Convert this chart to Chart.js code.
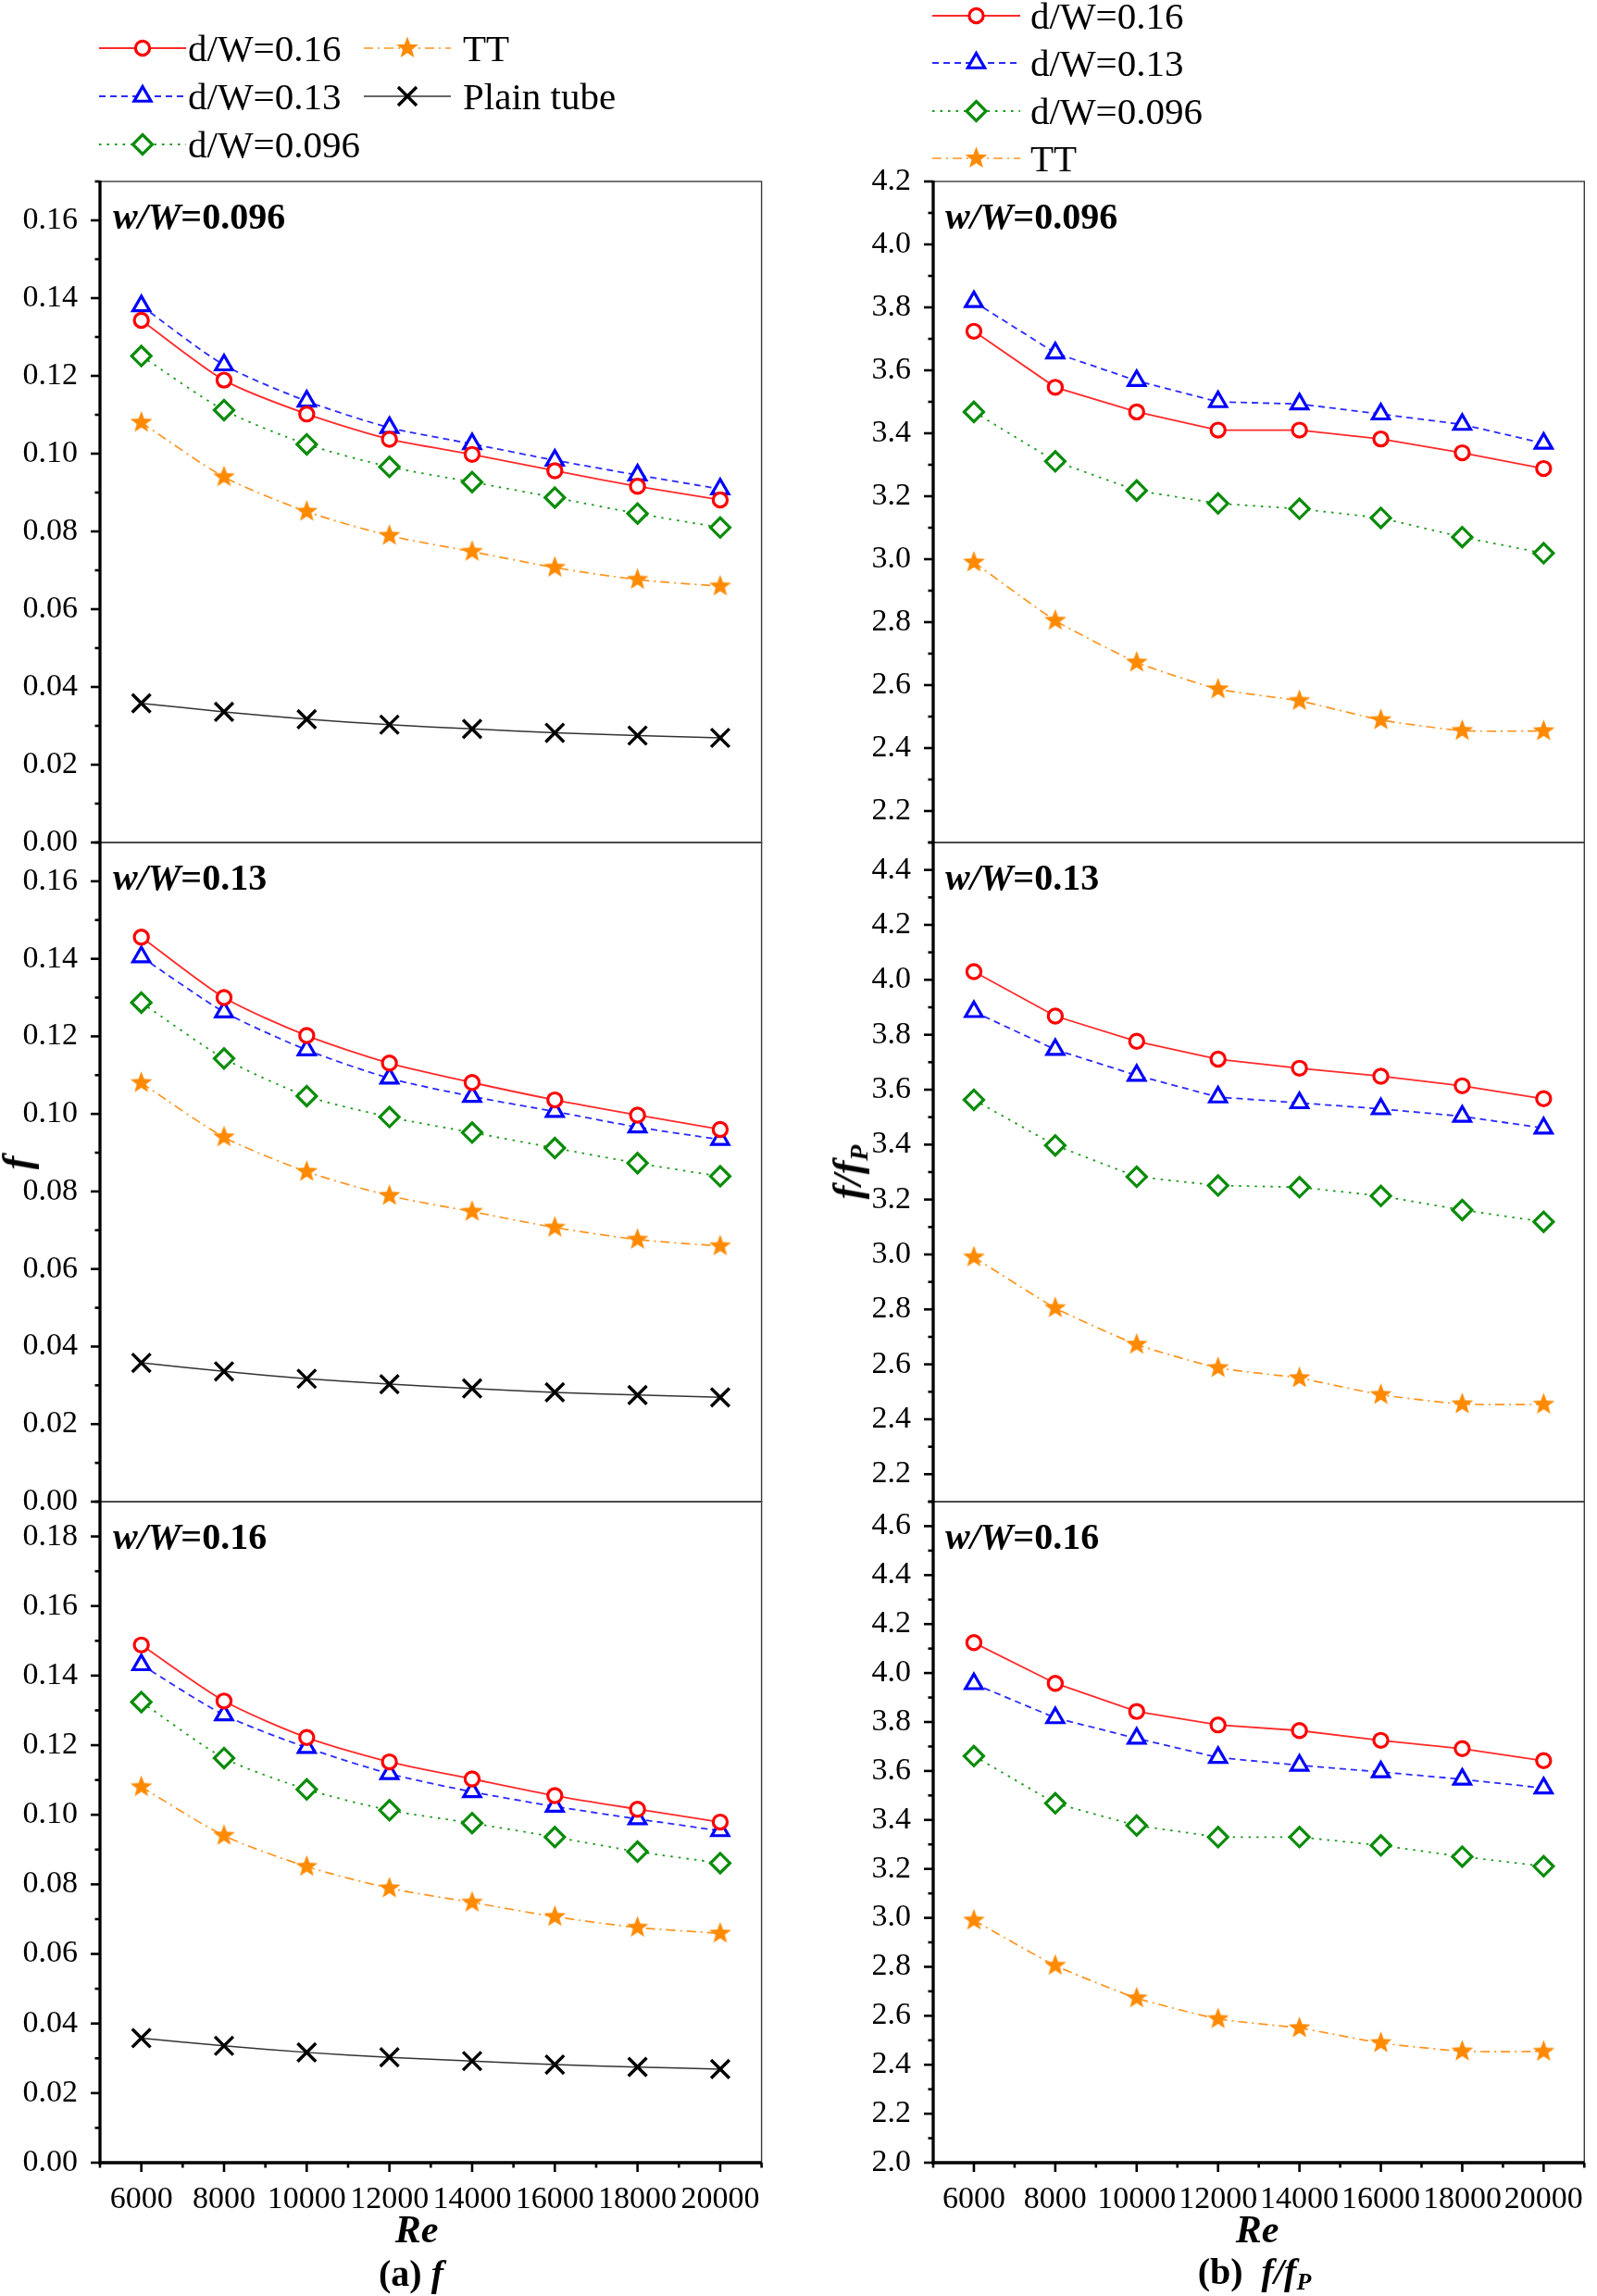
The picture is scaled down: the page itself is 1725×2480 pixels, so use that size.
<!DOCTYPE html>
<html><head><meta charset="utf-8">
<script src="https://cdn.jsdelivr.net/npm/chart.js@4.4.1/dist/chart.umd.min.js"></script>
<style>
body{margin:0;background:#fff;width:1725px;height:2480px;position:relative;overflow:hidden;font-family:"Liberation Serif","Times New Roman",serif;}
.cv{position:absolute;}
.txt{position:absolute;white-space:nowrap;color:#000;line-height:1;}
</style></head><body>
<script>
// ---------------- DATA ----------------
const reValues = [6000, 8000, 10000, 12000, 14000, 16000, 18000, 20000];
const xTickLabels = [6000, 8000, 10000, 12000, 14000, 16000, 18000, 20000];
const xMinorTicks = [5000, 7000, 9000, 11000, 13000, 15000, 17000, 19000, 21000];

const seriesNames = ['d/W=0.16', 'd/W=0.13', 'd/W=0.096', 'TT', 'Plain tube'];
const panelNames = ['w/W=0.096', 'w/W=0.13', 'w/W=0.16'];

// (a) f
const f_TT    = [0.1080, 0.0940, 0.0851, 0.0789, 0.0748, 0.0707, 0.0676, 0.0659];
const f_plain = [0.0358, 0.0336, 0.0317, 0.0303, 0.0292, 0.0282, 0.0275, 0.0269];
const f_w096_d16  = [0.1343, 0.1189, 0.1102, 0.1037, 0.0998, 0.0956, 0.0916, 0.0881];
const f_w096_d13  = [0.1380, 0.1228, 0.1135, 0.1067, 0.1025, 0.0983, 0.0945, 0.0909];
const f_w096_d096 = [0.1251, 0.1112, 0.1024, 0.0966, 0.0927, 0.0887, 0.0846, 0.0810];
const f_w13_d16   = [0.1456, 0.1300, 0.1202, 0.1131, 0.1081, 0.1036, 0.0997, 0.0960];
const f_w13_d13   = [0.1405, 0.1263, 0.1165, 0.1092, 0.1045, 0.1006, 0.0966, 0.0934];
const f_w13_d096  = [0.1287, 0.1143, 0.1046, 0.0992, 0.0952, 0.0912, 0.0873, 0.0839];
const f_w16_d16   = [0.1488, 0.1327, 0.1222, 0.1152, 0.1103, 0.1055, 0.1016, 0.0979];
const f_w16_d13   = [0.1431, 0.1287, 0.1193, 0.1118, 0.1066, 0.1024, 0.0988, 0.0954];
const f_w16_d096  = [0.1324, 0.1163, 0.1073, 0.1013, 0.0976, 0.0936, 0.0894, 0.0861];

// (b) f/fP
const r_TT        = [2.990, 2.805, 2.672, 2.587, 2.550, 2.489, 2.455, 2.454];
const r_w096_d16  = [3.724, 3.546, 3.468, 3.410, 3.410, 3.382, 3.338, 3.288];
const r_w096_d13  = [3.818, 3.655, 3.567, 3.500, 3.493, 3.461, 3.428, 3.368];
const r_w096_d096 = [3.468, 3.311, 3.218, 3.177, 3.160, 3.131, 3.070, 3.019];
const r_w13_d16   = [4.030, 3.868, 3.776, 3.711, 3.678, 3.649, 3.614, 3.567];
const r_w13_d13   = [3.884, 3.746, 3.652, 3.573, 3.552, 3.530, 3.503, 3.460];
const r_w13_d096  = [3.563, 3.397, 3.283, 3.251, 3.245, 3.213, 3.162, 3.119];
const r_w16_d16   = [4.124, 3.958, 3.843, 3.788, 3.765, 3.725, 3.691, 3.642];
const r_w16_d13   = [3.956, 3.817, 3.733, 3.655, 3.623, 3.596, 3.566, 3.530];
const r_w16_d096  = [3.661, 3.468, 3.377, 3.330, 3.330, 3.296, 3.250, 3.211];

// y tick labels
const fTicksA = [0.00, 0.02, 0.04, 0.06, 0.08, 0.10, 0.12, 0.14, 0.16];
const fTicksB = [0.00, 0.02, 0.04, 0.06, 0.08, 0.10, 0.12, 0.14, 0.16, 0.18];
const rTicks1 = [2.2, 2.4, 2.6, 2.8, 3.0, 3.2, 3.4, 3.6, 3.8, 4.0, 4.2];
const rTicks2 = [2.2, 2.4, 2.6, 2.8, 3.0, 3.2, 3.4, 3.6, 3.8, 4.0, 4.2, 4.4];
const rTicks3 = [2.0, 2.2, 2.4, 2.6, 2.8, 3.0, 3.2, 3.4, 3.6, 3.8, 4.0, 4.2, 4.4, 4.6];
const fRanges = [[0, 0.17], [0, 0.17], [0, 0.19]];
const rRanges = [[2.1, 4.2], [2.1, 4.5], [2.0, 4.7]];

// ---------------- STYLES ----------------
const FONT = '"Liberation Serif","Times New Roman",serif';
const COL = { red: '#ff0000', blue: '#0000ff', green: '#0a8c0a', orange: '#ff8a00', black: '#111111' };

function makeStar(rOuter, rInner, color) {
  const c = document.createElement('canvas');
  const s = Math.ceil(rOuter * 2 + 2);
  c.width = s; c.height = s;
  const g = c.getContext('2d');
  g.fillStyle = color;
  g.beginPath();
  for (let i = 0; i < 10; i++) {
    const r = i % 2 === 0 ? rOuter : rInner;
    const a = -Math.PI / 2 + i * Math.PI / 5;
    const px = s / 2 + r * Math.cos(a), py = s / 2 + r * Math.sin(a);
    if (i === 0) g.moveTo(px, py); else g.lineTo(px, py);
  }
  g.closePath(); g.fill();
  return c;
}
const starImg = makeStar(12.5, 5.2, COL.orange);

const styles = {
  d16:  { borderColor: '#ff2a2a', borderWidth: 1.8, borderDash: [], pointStyle: 'circle', pointRadius: 7.6, pointBorderWidth: 3.2, pointBorderColor: COL.red, pointBackgroundColor: '#fff' },
  d13:  { borderColor: '#2a2aff', borderWidth: 1.8, borderDash: [7, 5], pointStyle: 'triangle', pointRadius: 10.5, pointBorderWidth: 3.2, pointBorderColor: COL.blue, pointBackgroundColor: '#fff' },
  d096: { borderColor: '#1a9a1a', borderWidth: 1.8, borderDash: [2.5, 6], pointStyle: 'rectRot', pointRadius: 10.5, pointBorderWidth: 3.2, pointBorderColor: COL.green, pointBackgroundColor: '#fff' },
  TT:   { borderColor: '#ff9420', borderWidth: 1.7, borderDash: [10, 5, 2, 5], pointStyle: starImg, pointRadius: 12, pointBorderWidth: 0, pointBorderColor: COL.orange, pointBackgroundColor: COL.orange },
  plain:{ borderColor: '#333333', borderWidth: 1.5, borderDash: [], pointStyle: 'crossRot', pointRadius: 14, pointBorderWidth: 3.4, pointBorderColor: '#000', pointBackgroundColor: '#000' }
};

// ---------------- LAYOUT ----------------
const panelTops = [196, 910, 1622];
const panelBots = [910, 1622, 2336];
const PADT = 30, PADB = 30, XAXIS_H = 72;
const LEFT_COL  = { canvasX: 0,   canvasW: 840, axisW: 108, padR: 12 };   // plot 108..828
const RIGHT_COL = { canvasX: 880, canvasW: 845, axisW: 128, padR: 3 };    // plot 1008..1722

const framePlugin = {
  id: 'frame',
  afterDraw(chart, args, o) {
    const { ctx, chartArea: a } = chart;
    const ys = chart.scales.y, xs = chart.scales.x;
    ctx.save();
    ctx.setLineDash([]);
    ctx.strokeStyle = '#3a3a3a'; ctx.lineWidth = 1.4;
    ctx.strokeRect(a.left, a.top, a.right - a.left, a.bottom - a.top);
    ctx.strokeStyle = '#000'; ctx.lineWidth = 3.3;
    ctx.beginPath(); ctx.moveTo(a.left, a.top - 1); ctx.lineTo(a.left, a.bottom + (o.showX ? 1.6 : 0)); ctx.stroke();
    ctx.lineWidth = 2.6;
    o.yMajors.forEach(v => { const y = ys.getPixelForValue(v); ctx.beginPath(); ctx.moveTo(a.left, y); ctx.lineTo(a.left - 10, y); ctx.stroke(); });
    o.yMinors.forEach(v => { const y = ys.getPixelForValue(v); ctx.beginPath(); ctx.moveTo(a.left, y); ctx.lineTo(a.left - 5.5, y); ctx.stroke(); });
    if (o.showX) {
      ctx.lineWidth = 3.3;
      ctx.beginPath(); ctx.moveTo(a.left - 1.6, a.bottom); ctx.lineTo(a.right, a.bottom); ctx.stroke();
      ctx.lineWidth = 2.6;
      xTickLabels.forEach(v => { const x = xs.getPixelForValue(v); ctx.beginPath(); ctx.moveTo(x, a.bottom); ctx.lineTo(x, a.bottom + 10); ctx.stroke(); });
      xMinorTicks.forEach(v => { const x = xs.getPixelForValue(v); ctx.beginPath(); ctx.moveTo(x, a.bottom); ctx.lineTo(x, a.bottom + 5.5); ctx.stroke(); });
    }
    ctx.restore();
  }
};

function minorsOf(majors, lo, hi) {
  const step = majors[1] - majors[0];
  const out = [];
  const first = majors[0] - step / 2;
  for (let k = 0; ; k++) {
    const v = +(first + k * step).toFixed(6);
    if (v > hi + 1e-9) break;
    if (v >= lo - 1e-9) out.push(v);
  }
  return out;
}

function makePanel(col, idx, series, ticks, range, dec) {
  const showX = idx === 2;
  const cv = document.createElement('canvas');
  const top = panelTops[idx] - PADT;
  const h = (panelBots[idx] - panelTops[idx]) + PADT + (showX ? XAXIS_H : PADB);
  cv.width = col.canvasW; cv.height = h;
  cv.className = 'cv';
  cv.style.left = col.canvasX + 'px'; cv.style.top = top + 'px';
  cv.style.width = col.canvasW + 'px'; cv.style.height = h + 'px';
  document.body.appendChild(cv);
  const datasets = series.map(s => Object.assign({
    label: s.label,
    data: reValues.map((x, i) => ({ x: x, y: s.values[i] })),
    tension: s.tension,
    fill: false
  }, styles[s.key]));
  const xScale = {
    type: 'linear', min: 5000, max: 21000, display: showX,
    grid: { display: false }, border: { display: false },
    afterBuildTicks: s => { s.ticks = xTickLabels.map(v => ({ value: v })); },
    ticks: { autoSkip: false, maxRotation: 0, minRotation: 0, padding: 12, color: '#000',
      font: { family: FONT, size: 34 }, callback: v => String(v) }
  };
  if (showX) xScale.afterFit = s => { s.height = XAXIS_H; s.paddingLeft = 0; s.paddingRight = 0; };
  new Chart(cv.getContext('2d'), {
    type: 'line',
    data: { datasets },
    options: {
      responsive: false, animation: false, devicePixelRatio: 1,
      layout: { padding: { top: PADT, bottom: showX ? 0 : PADB, left: 0, right: col.padR } },
      plugins: {
        legend: { display: false }, tooltip: { enabled: false },
        frame: { showX, yMajors: ticks, yMinors: minorsOf(ticks, range[0], range[1]) }
      },
      scales: {
        x: xScale,
        y: {
          type: 'linear', min: range[0], max: range[1],
          grid: { display: false }, border: { display: false },
          afterBuildTicks: s => { s.ticks = ticks.map(v => ({ value: v })); },
          afterFit: s => { s.width = col.axisW; s.paddingTop = 0; s.paddingBottom = 0; },
          ticks: { autoSkip: false, padding: 16, color: '#000', font: { family: FONT, size: 34 },
            callback: v => Number(v).toFixed(dec) }
        }
      }
    },
    plugins: [framePlugin]
  });
}

const fData = [
  [f_w096_d16, f_w096_d13, f_w096_d096],
  [f_w13_d16, f_w13_d13, f_w13_d096],
  [f_w16_d16, f_w16_d13, f_w16_d096]
];
const rData = [
  [r_w096_d16, r_w096_d13, r_w096_d096],
  [r_w13_d16, r_w13_d13, r_w13_d096],
  [r_w16_d16, r_w16_d13, r_w16_d096]
];
const fTickSets = [fTicksA, fTicksA, fTicksB];
const rTickSets = [rTicks1, rTicks2, rTicks3];

for (let i = 0; i < 3; i++) {
  makePanel(LEFT_COL, i, [
    { label: seriesNames[0], key: 'd16', values: fData[i][0], tension: 0.25 },
    { label: seriesNames[1], key: 'd13', values: fData[i][1], tension: 0.25 },
    { label: seriesNames[2], key: 'd096', values: fData[i][2], tension: 0.25 },
    { label: seriesNames[3], key: 'TT', values: f_TT, tension: 0.25 },
    { label: seriesNames[4], key: 'plain', values: f_plain, tension: 0.25 }
  ], fTickSets[i], fRanges[i], 2);
  makePanel(RIGHT_COL, i, [
    { label: seriesNames[0], key: 'd16', values: rData[i][0], tension: 0 },
    { label: seriesNames[1], key: 'd13', values: rData[i][1], tension: 0 },
    { label: seriesNames[2], key: 'd096', values: rData[i][2], tension: 0 },
    { label: seriesNames[3], key: 'TT', values: r_TT, tension: 0.15 }
  ], rTickSets[i], rRanges[i], 1);
}

// ---------------- TEXT ----------------
function addText(html, left, top, size, extra) {
  const d = document.createElement('div');
  d.className = 'txt';
  d.style.left = left + 'px'; d.style.top = top + 'px'; d.style.fontSize = size + 'px';
  if (extra) Object.assign(d.style, extra);
  d.innerHTML = html;
  document.body.appendChild(d);
  return d;
}
// panel labels
const panelLabelY = [214, 928, 1640];
for (let i = 0; i < 3; i++) {
  const [a, b] = panelNames[i].split('=');
  const html = '<b><i>' + a + '</i>=' + b + '</b>';
  addText(html, 122, panelLabelY[i], 40);
  addText(html, 1021, panelLabelY[i], 40);
}
// axis titles
addText('<b><i>Re</i></b>', 450, 2408, 42, { transform: 'translate(-50%,-50%)' });
addText('<b><i>Re</i></b>', 1358, 2408, 42, { transform: 'translate(-50%,-50%)' });
addText('<b>(a) <i>f</i></b>', 444, 2456, 40, { transform: 'translate(-50%,-50%)' });
addText('<b>(b)&nbsp; <i>f/f<sub style="font-size:26px;vertical-align:-6px">P</sub></i></b>', 1355, 2456, 40, { transform: 'translate(-50%,-50%)' });
addText('<b><i>f</i></b>', 19, 1256, 44, { transform: 'translate(-50%,-50%) rotate(-90deg)' });
addText('<b><i>f/f<sub style="font-size:28px;vertical-align:-7px">P</sub></i></b>', 918, 1266, 44, { transform: 'translate(-50%,-50%) rotate(-90deg)' });

// ---------------- LEGENDS ----------------
const NS = 'http://www.w3.org/2000/svg';
const svg = document.createElementNS(NS, 'svg');
svg.setAttribute('width', 1725); svg.setAttribute('height', 200);
svg.style.position = 'absolute'; svg.style.left = '0px'; svg.style.top = '0px';
document.body.appendChild(svg);
function el(name, attrs) { const e = document.createElementNS(NS, name); for (const k in attrs) e.setAttribute(k, attrs[k]); svg.appendChild(e); return e; }
function legendItem(key, x1, x2, y, label, textX) {
  const st = styles[key];
  const cx = (x1 + x2) / 2;
  el('line', { x1, y1: y, x2, y2: y, stroke: st.borderColor, 'stroke-width': st.borderWidth, 'stroke-dasharray': st.borderDash.length ? st.borderDash.join(' ') : 'none' });
  const c = st.pointBorderColor, w = st.pointBorderWidth;
  if (key === 'd16') el('circle', { cx, cy: y, r: 7.6, fill: '#fff', stroke: c, 'stroke-width': w });
  if (key === 'd13') el('polygon', { points: `${cx},${y - 10.5} ${cx + 9.1},${y + 5.25} ${cx - 9.1},${y + 5.25}`, fill: '#fff', stroke: c, 'stroke-width': w });
  if (key === 'd096') el('polygon', { points: `${cx},${y - 10.5} ${cx + 10.5},${y} ${cx},${y + 10.5} ${cx - 10.5},${y}`, fill: '#fff', stroke: c, 'stroke-width': w });
  if (key === 'TT') {
    let pts = [];
    for (let i = 0; i < 10; i++) { const r = i % 2 === 0 ? 12.5 : 5.2; const a = -Math.PI / 2 + i * Math.PI / 5; pts.push((cx + r * Math.cos(a)).toFixed(2) + ',' + (y + r * Math.sin(a)).toFixed(2)); }
    el('polygon', { points: pts.join(' '), fill: COL.orange });
  }
  if (key === 'plain') {
    el('line', { x1: cx - 10, y1: y - 10, x2: cx + 10, y2: y + 10, stroke: '#000', 'stroke-width': 3.4 });
    el('line', { x1: cx - 10, y1: y + 10, x2: cx + 10, y2: y - 10, stroke: '#000', 'stroke-width': 3.4 });
  }
  addText(label, textX, y - 20, 41);
}
// left legend
legendItem('d16', 107, 201, 52, seriesNames[0], 203);
legendItem('d13', 107, 201, 104, seriesNames[1], 203);
legendItem('d096', 107, 201, 156, seriesNames[2], 203);
legendItem('TT', 393, 487, 52, seriesNames[3], 500);
legendItem('plain', 393, 487, 104, seriesNames[4], 500);
// right legend
legendItem('d16', 1007, 1102, 17, seriesNames[0], 1113);
legendItem('d13', 1007, 1102, 68, seriesNames[1], 1113);
legendItem('d096', 1007, 1102, 120, seriesNames[2], 1113);
legendItem('TT', 1007, 1102, 171, seriesNames[3], 1113);
</script>
</body></html>
